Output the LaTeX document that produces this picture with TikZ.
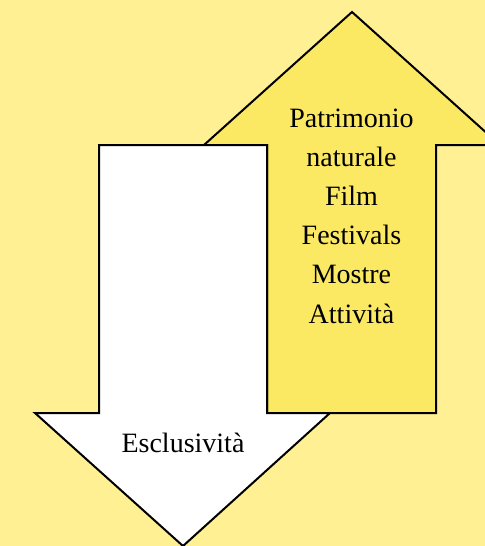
\documentclass[tikz,border=0pt]{standalone}
\usepackage{fontspec}
\setmainfont{Liberation Serif}
\usepackage{tikz}
\usetikzlibrary{positioning}
\definecolor{PageBack}{HTML}{FFF094}
\definecolor{ArrowUpFill}{HTML}{FBE964}

\begin{document}
\begin{tikzpicture}[
        x=0.75pt,y=-0.75pt,
        bigarrow/.style={draw=black,line width=1.5pt,line join=miter},
        label text/.style={inner sep=0pt,font=\fontsize{21}{24}\selectfont}
      ]
        \fill[PageBack] (0,0) rectangle (485,546);
        \useasboundingbox (0,0) rectangle (485,546);
        % upward arrow
        \draw[bigarrow,fill=ArrowUpFill] (352,12) -- (500,145) -- (436,145) -- (436,413)
          -- (267,413) -- (267,145) -- (204,145) -- cycle;
        % downward arrow
        \draw[bigarrow,fill=white] (99,145) -- (267,145) -- (267,413) -- (330,413)
          -- (183,546) -- (35,413) -- (99,413) -- cycle;
        \foreach \txt [count=\i] in {Patrimonio,naturale,Film,Festivals,Mostre,Attività}
          \node[label text,anchor=base] (up\i) at (351.5,{127+39.2*(\i-1)}) {\txt};
        \node[label text,anchor=base] (down) at (183,452) {Esclusività};
      \end{tikzpicture}
\end{document}
